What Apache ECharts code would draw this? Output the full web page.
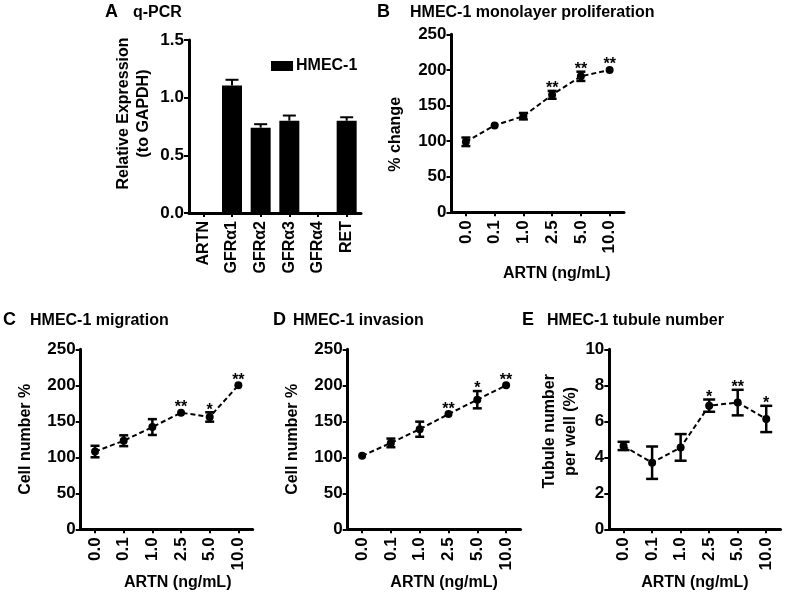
<!DOCTYPE html>
<html>
<head>
<meta charset="utf-8">
<script src="https://cdn.jsdelivr.net/npm/echarts@6/dist/echarts.min.js"></script>
<style>html,body{margin:0;padding:0;background:#fff}#c{width:786px;height:595px}</style>
</head>
<body>
<div id="c"></div>
<script>
// ---- data ----
const qpcrGenes = ['ARTN', 'GFRα1', 'GFRα2', 'GFRα3', 'GFRα4', 'RET'];
const qpcrMean = [0, 1.105, 0.74, 0.80, 0, 0.80];
const qpcrSem = [0, 0.05, 0.03, 0.045, 0, 0.03];

const doses = ['0.0', '0.1', '1.0', '2.5', '5.0', '10.0'];

const prolifMean = [99, 122, 135, 165, 191, 200];
const prolifSem = [6, 0, 4.5, 5.5, 6.5, 0];
const prolifSig = ['', '', '', '**', '**', '**'];

const migrationMean = [108, 123, 142, 162, 156, 200];
const migrationSem = [8, 7.5, 11, 0, 6.5, 0];
const migrationSig = ['', '', '', '**', '*', '**'];

const invasionMean = [102, 120, 139, 160, 180, 200];
const invasionSem = [0, 6, 10.5, 0, 12, 0];
const invasionSig = ['', '', '', '**', '*', '**'];

const tubuleMean = [4.63, 3.70, 4.55, 6.87, 7.04, 6.13];
const tubuleSem = [0.23, 0.9, 0.74, 0.34, 0.71, 0.73];
const tubuleSig = ['', '', '', '*', '**', '*'];

const yTicksPct = [0, 50, 100, 150, 200, 250];
const yTicksQ = [0, 0.5, 1.0, 1.5];
const yTicksTub = [0, 2, 4, 6, 8, 10];

// ---- styling ----
const FONT = "'Liberation Sans', Arial, sans-serif";
const chart = echarts.init(document.getElementById('c'), null, {renderer: 'canvas'});

const grids = [
  {left: 189, top: 40, width: 172, height: 173},
  {left: 451.5, top: 34.3, width: 172.5, height: 178},
  {left: 80.7, top: 349.3, width: 172, height: 180},
  {left: 347.7, top: 349.3, width: 172.8, height: 180},
  {left: 609.3, top: 349.3, width: 171.2, height: 180}
];

function xAxisDef(idx, cats, labelSize, name, nameGap, namePadLeft) {
  return {
    type: 'category', gridIndex: idx, data: cats,
    axisLine: {lineStyle: {color: '#000', width: 3}},
    axisTick: {show: true, alignWithLabel: true, length: 4, lineStyle: {color: '#000', width: 2}},
    axisLabel: {rotate: 90, color: '#000', fontFamily: FONT, fontWeight: 'bold', fontSize: labelSize, margin: 8, interval: 0},
    name: name, nameLocation: 'middle', nameGap: nameGap,
    nameTextStyle: {color: '#000', fontFamily: FONT, fontWeight: 'bold', fontSize: 16, padding: [0, 0, 0, namePadLeft]},
    splitLine: {show: false}
  };
}
function yAxisDef(idx, ticks, fmt, name, nameGap, pad, lh) {
  return {
    type: 'value', gridIndex: idx, min: ticks[0], max: ticks[ticks.length - 1],
    interval: ticks[1] - ticks[0],
    axisLine: {show: true, lineStyle: {color: '#000', width: 3}},
    axisTick: {show: true, length: 5, lineStyle: {color: '#000', width: 2}},
    axisLabel: {color: '#000', fontFamily: FONT, fontWeight: 'bold', fontSize: 17, margin: 5, formatter: fmt},
    splitLine: {show: false},
    name: name, nameLocation: 'middle', nameGap: nameGap,
    nameTextStyle: {color: '#000', fontFamily: FONT, fontWeight: 'bold', fontSize: 16, lineHeight: lh, padding: pad}
  };
}

function errBars(means, sems, sigs, capHalf, markerR) {
  return function (params, api) {
    const i = params.dataIndex;
    const m = api.value(1), s = api.value(2);
    const c = api.coord([i, m]);
    const children = [];
    let topY = c[1] - markerR;
    if (s > 0) {
      const t = api.coord([i, m + s]);
      const b = api.coord([i, m - s]);
      const st = {stroke: '#000', lineWidth: 2.5};
      children.push({type: 'line', shape: {x1: c[0], y1: t[1], x2: c[0], y2: b[1]}, style: st});
      children.push({type: 'line', shape: {x1: c[0] - capHalf, y1: t[1], x2: c[0] + capHalf, y2: t[1]}, style: st});
      children.push({type: 'line', shape: {x1: c[0] - capHalf, y1: b[1], x2: c[0] + capHalf, y2: b[1]}, style: st});
      topY = t[1] - 1;
    }
    if (sigs && sigs[i]) {
      children.push({type: 'text', style: {text: sigs[i], x: c[0], y: topY - 9, align: 'center', verticalAlign: 'top',
        fill: '#000', font: 'bold 16px ' + FONT}});
    }
    return {type: 'group', children: children};
  };
}
function barErr(params, api) {
  const i = params.dataIndex;
  const m = api.value(1), s = api.value(2);
  if (!(s > 0)) return {type: 'group', children: []};
  const c = api.coord([i, m]);
  const t = api.coord([i, m + s]);
  const st = {stroke: '#000', lineWidth: 2};
  return {type: 'group', children: [
    {type: 'line', shape: {x1: c[0], y1: t[1], x2: c[0], y2: c[1]}, style: st},
    {type: 'line', shape: {x1: c[0] - 6.5, y1: t[1], x2: c[0] + 6.5, y2: t[1]}, style: st}
  ]};
}

function lineSeries(idx, means) {
  return {
    type: 'line', xAxisIndex: idx, yAxisIndex: idx, data: means,
    symbol: 'circle', symbolSize: 8, itemStyle: {color: '#000'},
    lineStyle: {color: '#000', width: 2, type: [5, 3]}, z: 3
  };
}
function errSeries(idx, means, sems, sigs, capHalf) {
  return {
    type: 'custom', xAxisIndex: idx, yAxisIndex: idx,
    data: means.map((m, i) => [i, m, sems[i]]),
    renderItem: errBars(means, sems, sigs, capHalf, 4), z: 4, clip: false
  };
}

const titleStyle = (size) => ({color: '#000', fontFamily: FONT, fontWeight: 'bold', fontSize: size});
const titles = [
  {text: 'A', left: 105, top: 3, padding: 0, textStyle: titleStyle(18)},
  {text: 'q-PCR', left: 133, top: 5, padding: 0, textStyle: titleStyle(16)},
  {text: 'B', left: 377, top: 3, padding: 0, textStyle: titleStyle(18)},
  {text: 'HMEC-1 monolayer proliferation', left: 410, top: 5, padding: 0, textStyle: titleStyle(16)},
  {text: 'C', left: 3, top: 311, padding: 0, textStyle: titleStyle(18)},
  {text: 'HMEC-1 migration', left: 30, top: 313, padding: 0, textStyle: titleStyle(16)},
  {text: 'D', left: 273, top: 311, padding: 0, textStyle: titleStyle(18)},
  {text: 'HMEC-1 invasion', left: 293, top: 313, padding: 0, textStyle: titleStyle(16)},
  {text: 'E', left: 522, top: 311, padding: 0, textStyle: titleStyle(18)},
  {text: 'HMEC-1 tubule number', left: 547, top: 313, padding: 0, textStyle: titleStyle(16)}
];

const fmt1 = v => v.toFixed(1);
const fmt0 = v => String(v);

const option = {
  animation: false,
  backgroundColor: '#fff',
  title: titles,
  legend: {
    data: ['HMEC-1'], left: 271, top: 58, padding: 0, itemGap: 4,
    icon: 'rect', itemWidth: 22, itemHeight: 10, selectedMode: false,
    textStyle: {color: '#000', fontFamily: FONT, fontWeight: 'bold', fontSize: 16, padding: [0, 0, 0, -2]}
  },
  grid: grids,
  xAxis: [
    xAxisDef(0, qpcrGenes, 16, '', 0, 0),
    xAxisDef(1, doses, 17, 'ARTN (ng/mL)', 53, 38),
    xAxisDef(2, doses, 17, 'ARTN (ng/mL)', 45, 22),
    xAxisDef(3, doses, 17, 'ARTN (ng/mL)', 45, 20),
    xAxisDef(4, doses, 17, 'ARTN (ng/mL)', 45, 0)
  ],
  yAxis: [
    yAxisDef(0, yTicksQ, fmt1, 'Relative Expression\n(to GAPDH)', 35, [0, 0, 0, 26], 20),
    yAxisDef(1, yTicksPct, fmt0, '% change', 46, [0, 22, 0, 0], 20),
    yAxisDef(2, yTicksPct, fmt0, 'Cell number %', 45, [0, 0, 0, 0], 20),
    yAxisDef(3, yTicksPct, fmt0, 'Cell number %', 45, [0, 0, 0, 0], 20),
    yAxisDef(4, yTicksTub, fmt0, 'Tubule number\nper well (%)', 27, [0, 0, 0, 16], 21)
  ],
  series: [
    {name: 'HMEC-1', type: 'bar', xAxisIndex: 0, yAxisIndex: 0, data: qpcrMean, barWidth: 20,
      itemStyle: {color: '#000'}},
    {type: 'custom', xAxisIndex: 0, yAxisIndex: 0, data: qpcrMean.map((m, i) => [i, m, qpcrSem[i]]),
      renderItem: barErr, z: 4, clip: false},
    lineSeries(1, prolifMean), errSeries(1, prolifMean, prolifSem, prolifSig, 4.5),
    lineSeries(2, migrationMean), errSeries(2, migrationMean, migrationSem, migrationSig, 4.5),
    lineSeries(3, invasionMean), errSeries(3, invasionMean, invasionSem, invasionSig, 4.5),
    lineSeries(4, tubuleMean), errSeries(4, tubuleMean, tubuleSem, tubuleSig, 6)
  ]
};
chart.setOption(option);
</script>
</body>
</html>
